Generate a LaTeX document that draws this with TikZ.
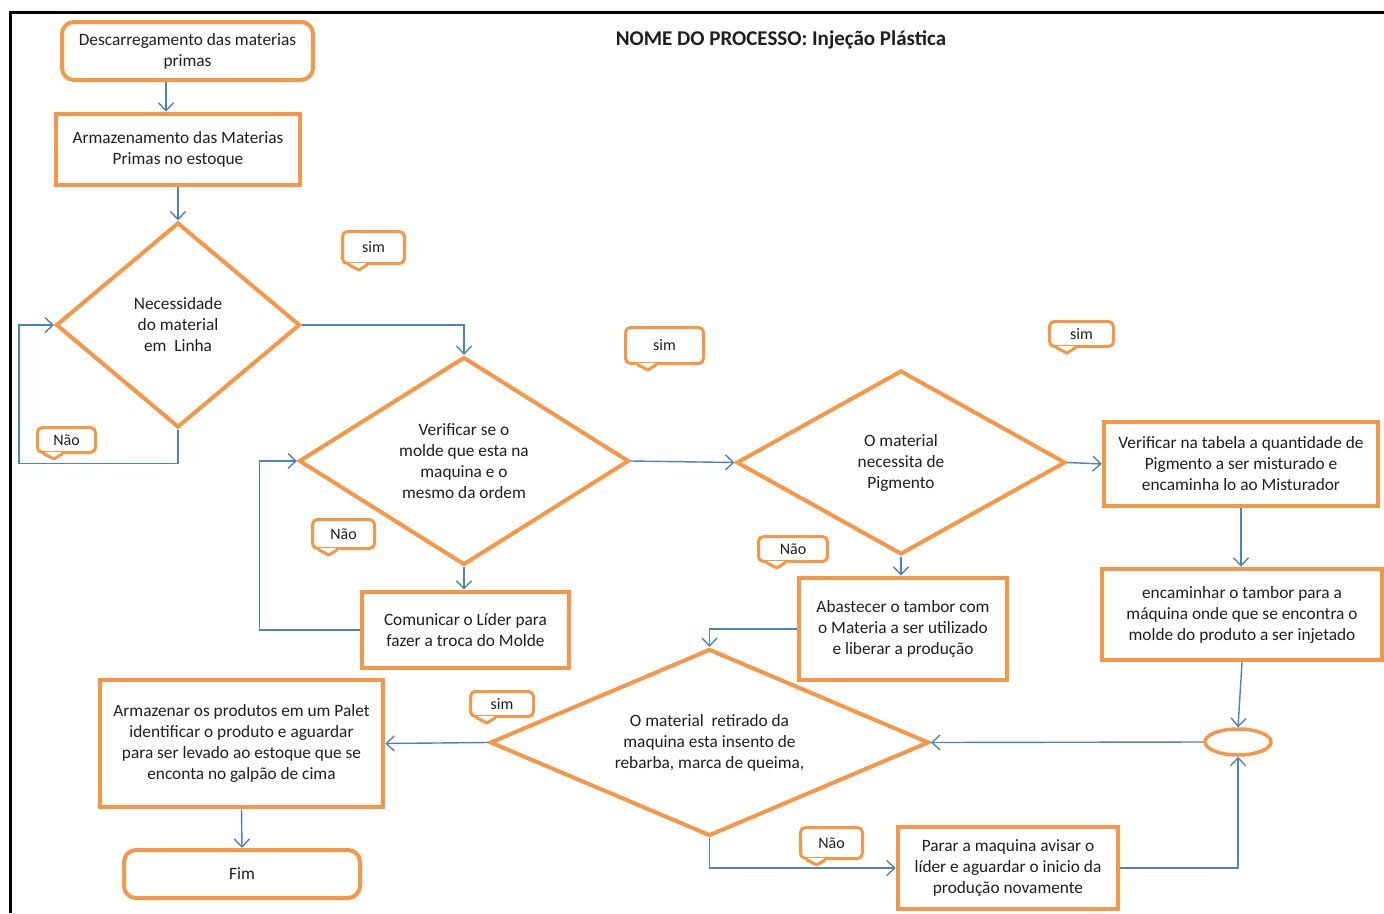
\documentclass[tikz,border=0pt]{standalone}
\usepackage{fontspec}
\setmainfont{Carlito}
\usetikzlibrary{shapes.geometric, arrows.meta}
\definecolor{orng}{HTML}{F79646}
\definecolor{lnk}{HTML}{4F81BD}
\definecolor{txt}{HTML}{1F1F1F}

% small speech-bubble tail under a label node: #1 node, #2 tip offset from its west side
\newcommand\tagtail[2]{%
  \draw[white, line width=3.6pt] ([xshift=#2pt]#1.south west) ++(-9,0) -- ++(16,0);
  \draw[orng, line width=3pt, line join=round, line cap=round]
    ([xshift=#2pt]#1.south west) ++(-10,0) -- ++(10,5) -- ++(8,-5);
}

\begin{document}
\begin{tikzpicture}[x=1pt,y=-1pt,
  every node/.style={font=\fontsize{17.3}{21}\selectfont, text=txt, align=center, inner sep=0pt},
  procbox/.style={draw=orng, line width=4.5pt, fill=white},
  termbox/.style={draw=orng, line width=4pt, rounded corners=12pt, fill=white},
  decision/.style={diamond, draw=orng, line width=4pt, fill=white},
  junction/.style={ellipse, draw=orng, line width=3.5pt, fill=white},
  tag/.style={draw=orng, line width=3pt, rounded corners=5pt, fill=white,
              font=\fontsize{16}{18}\selectfont},
  flow/.style={draw=lnk, line width=1.4pt, -{Straight Barb[length=8pt,width=15pt]}},
]
\useasboundingbox (0,0) rectangle (1384,913);

% page frame
\draw[line width=3pt, black] (10.5,913) -- (10.5,12) -- (1384,12);

\node[font=\fontsize{21}{24}\selectfont\bfseries] (title) at (781,40)
  {NOME DO PROCESSO: Injeção Plástica};

% process steps
\node[termbox, minimum width=251pt, minimum height=58pt] (start) at (187.5,51)
  {Descarregamento das materias\\primas};
\node[procbox, minimum width=244pt, minimum height=71pt] (store) at (178,149.5)
  {Armazenamento das Materias\\Primas no estoque};
\node[decision, aspect=1.19, minimum width=244pt, minimum height=205pt] (d1) at (178,325)
  {Necessidade\\do material\\em\ \ Linha};
\node[decision, aspect=1.6, minimum width=330pt, minimum height=208pt] (d2) at (464,461)
  {Verificar se o\\molde que esta na\\maquina e o\\mesmo da ordem};
\node[procbox, minimum width=207pt, minimum height=76pt] (comm) at (465.5,630)
  {Comunicar o Líder para\\fazer a troca do Molde};
\node[decision, aspect=1.8, minimum width=329pt, minimum height=184pt] (d3) at (901,462.5)
  {O material\\necessita de\\Pigmento};
\node[procbox, minimum width=274pt, minimum height=84pt] (vbox) at (1241,464)
  {Verificar na tabela a quantidade de\\Pigmento a ser misturado e\\encaminha lo ao Misturador};
\node[procbox, minimum width=280pt, minimum height=91pt] (ebox) at (1242,614.5)
  {encaminhar o tambor para a\\máquina onde que se encontra o\\molde do produto a ser injetado};
\node[procbox, minimum width=208pt, minimum height=102pt] (abast) at (903,629)
  {Abastecer o tambor com\\o Materia a ser utilizado\\e liberar a produção};
\node[decision, aspect=2.36, minimum width=439pt, minimum height=187pt] (d4) at (709.5,742.5)
  {O material\ \ retirado da\\maquina esta insento de\\rebarba, marca de queima,};
\node[junction, minimum width=66pt, minimum height=26pt] (junc) at (1238,742) {};
\node[procbox, minimum width=220pt, minimum height=82pt] (parar) at (1008,868)
  {Parar a maquina avisar o\\líder e aguardar o inicio da\\produção novamente};
\node[procbox, minimum width=283pt, minimum height=127pt] (pallet) at (241.5,743.5)
  {Armazenar os produtos em um Palet\\identificar o produto e aguardar\\para ser levado ao estoque que se\\enconta no galpão de cima};
\node[termbox, minimum width=236pt, minimum height=48pt] (fim) at (242,874) {Fim};

% answer labels
\node[tag, minimum width=62pt, minimum height=32pt] (s1) at (373.5,247.5) {sim};
\node[tag, minimum width=78pt, minimum height=36pt] (s2) at (664.5,345.5) {sim};
\node[tag, minimum width=64pt, minimum height=25pt] (s3) at (1081.5,334) {sim};
\node[tag, minimum width=63pt, minimum height=25pt] (s4) at (502,704) {sim};
\node[tag, minimum width=58pt, minimum height=25pt] (n1) at (66.5,440) {Não};
\node[tag, minimum width=62pt, minimum height=29pt] (n2) at (343.5,534) {Não};
\node[tag, minimum width=69pt, minimum height=25pt] (n3) at (793,549) {Não};
\node[tag, minimum width=62pt, minimum height=31pt] (n4) at (831.5,843) {Não};
\tagtail{s1}{18}
\tagtail{s2}{24}
\tagtail{s3}{19}
\tagtail{s4}{18}
\tagtail{n1}{18}
\tagtail{n2}{18}
\tagtail{n3}{20}
\tagtail{n4}{18}

% connectors
\draw[flow] ([xshift=-21.5pt]start.south) -- ([xshift=-21.5pt]start.south |- store.north);
\draw[flow] (store.south) -- (d1.north);
\draw[flow] (d1.south) -- ++(0,34) -- ++(-159,0) |- (d1.west);
\draw[flow] (d1.east) -| (d2.north);
\draw[flow] (d2.east) -- (d3.west);
\draw[flow] (d2.south) -- (d2.south |- comm.north);
\draw[flow] (comm.west) -- ++(-100,0) |- (d2.west);
\draw[flow] (d3.east) -- (vbox.west);
\draw[flow] (d3.south) -- (d3.south |- abast.north);
\draw[flow] (vbox.south) -- (vbox.south |- ebox.north);
\draw[flow] (ebox.south) -- (junc.north);
\draw[flow] (junc.west) -- (d4.east);
\draw[flow] (abast.west) -| (d4.north);
\draw[flow] (d4.west) -- (pallet.east);
\draw[flow] (d4.south) |- (parar.west);
\draw[flow] (parar.east) -| (junc.south);
\draw[flow] (pallet.south) -- (fim.north);
\end{tikzpicture}
\end{document}
